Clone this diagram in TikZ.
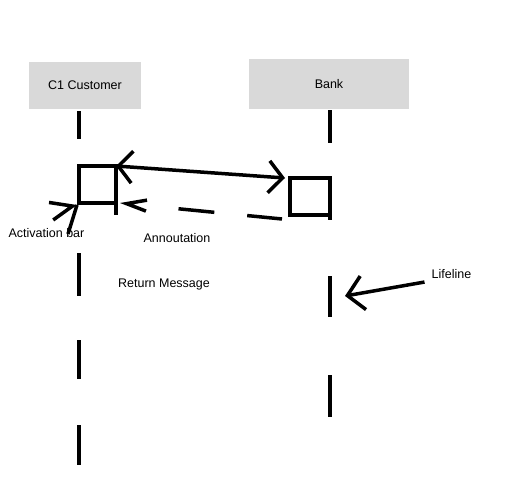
\documentclass[tikz,border=0pt]{standalone}
\usepackage{fontspec}
\setmainfont{Liberation Sans}
\usetikzlibrary{arrows.meta}
\definecolor{headgray}{HTML}{D9D9D9}

\begin{document}
\begin{tikzpicture}[x=1pt, y=-1pt, font=\fontsize{12.5}{15}\selectfont]
  \tikzstyle{head} = [fill=headgray, inner sep=0pt]
  \tikzstyle{bar} = [draw, rectangle, line width=4pt, inner sep=0pt, outer sep=0pt]
  \tikzstyle{lifeline} = [line width=4pt]
  \tikzstyle{msg} = [line width=3.5pt]
  \tikzstyle{note} = [anchor=base, inner sep=0pt]
  \useasboundingbox (0,0) rectangle (522,495);

  \node [head, minimum width=112pt, minimum height=47pt] (customer) at (85,85.5) {C1 Customer};
  \node [head, minimum width=160pt, minimum height=50pt] (bank) at (329,84) {Bank};
  \node [bar, minimum width=37pt, minimum height=37pt] (act1) at (97.5,184.5) {};
  \node [bar, minimum width=40pt, minimum height=37pt] (act2) at (309.5,196.5) {};

  \foreach \a/\b in {111/139, 253/296, 340/379, 425/465}
    \draw [lifeline] (act1.west |- 0,\a) -- (act1.west |- 0,\b);
  \foreach \a/\b in {110/143, 176/220, 276/317, 375/417}
    \draw [lifeline] (act2.east |- 0,\a) -- (act2.east |- 0,\b);
  \draw [lifeline] (act1.south east) -- ++(0,12);

  \node [note] (actlabel) at (46.5,237) {Activation bar};
  \node [note] (annot) at (177,242) {Annoutation};
  \node [note] (retlabel) at (164,287) {Return Message};
  \node [note] (lifelabel) at (451.5,278) {Lifeline};

  \coordinate (lifetip) at (345,296);
  \coordinate (bartail) at (68,234);
  \coordinate (bartip) at (77,205);

  \draw [msg, {Straight Barb[length=14pt,width=32pt]}-{Straight Barb[length=14pt,width=32pt]}] (act1.north east) -- ([xshift=-4.5pt]act2.north west);
  \draw [msg, dash pattern=on 35pt off 33pt on 36pt off 80pt, -{Straight Barb[length=20pt,width=11pt]}] ([shift={(-7.5,4)}]act2.south west) -- ([xshift=4pt]act1.south east);
  \draw [msg, -{Straight Barb[length=16pt,width=34pt]}] ([shift={(-7,8.5)}]lifelabel.west) -- (lifetip);
  \draw [msg] (bartail) -- (bartip);
  \draw [msg, -{Straight Barb[length=22pt,width=18pt]}] ([shift={(-5,1.2)}]bartip) -- (bartip);
\end{tikzpicture}
\end{document}
